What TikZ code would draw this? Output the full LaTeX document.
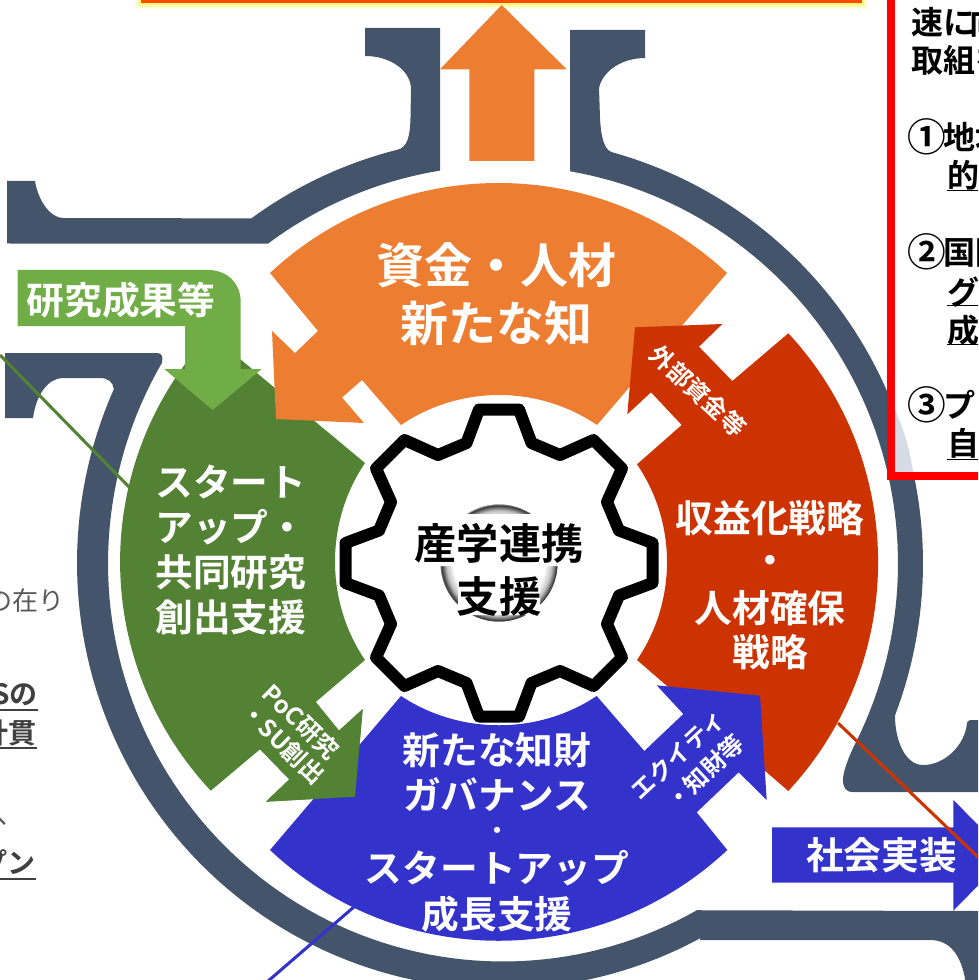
\documentclass[tikz,border=0pt]{standalone}
\usepackage{fontspec}
\setmainfont{Noto Sans CJK JP}[BoldFont={Noto Sans CJK JP Bold}]
\definecolor{ringc}{HTML}{44546A}
\definecolor{orangec}{HTML}{ED7D31}
\definecolor{greenc}{HTML}{548235}
\definecolor{redc}{HTML}{CC3300}
\definecolor{bluec}{HTML}{3333CC}
\definecolor{limec}{HTML}{70AD47}
\definecolor{sliver}{HTML}{D6DCE5}
\definecolor{boxred}{HTML}{FF0000}
\definecolor{bannerc}{HTML}{FF4B00}
\pgfdeclareradialshading{ballshade}{\pgfpoint{0bp}{0bp}}{color(0bp)=(white); color(19.5bp)=(white); color(22.5bp)=(black!25); color(24.9bp)=(black!85); color(25.2bp)=(white); color(100bp)=(white)}
\newcommand{\fsz}[1]{\fontsize{#1}{#1}\selectfont}
\tikzset{
  ringfill/.style={fill=ringc},
  wlabel/.style={text=white,inner sep=0pt,font=\bfseries\fsz{28.3}},
  wbig/.style={text=white,inner sep=0pt,font=\bfseries\fsz{36}},
  wsmall/.style={text=white,inner sep=0pt,font=\bfseries\fsz{18}},
  blabel/.style={text=black,inner sep=0pt,font=\bfseries\fsz{31.7}},
  boxtext/.style={text=black,inner sep=0pt,anchor=west,font=\bfseries\fsz{24}},
  boxnum/.style={text=black,inner sep=0pt,font=\bfseries\fsz{29}},
  sidebold/.style={text=black!75,inner sep=0pt,anchor=east,font=\bfseries\fsz{21}},
  sidereg/.style={text=black!65,inner sep=0pt,anchor=east,font=\fsz{19.5}},
  uline/.style={line width=1.1pt},
}
\begin{document}
\begin{tikzpicture}[x=0.75pt,y=-0.75pt]
\path[use as bounding box] (0,0) rectangle (978,980);
\clip (0,0) rectangle (978,980);
% ---- ring pieces
\fill[ringfill] (440,28) -- (440,170.5)
  -- plot[domain=260.8:233.5,samples=30,variable=\t] ({503+395*cos(\t)},{563.5+398*sin(\t)})
  -- (7,243.5) -- (7,181) -- (35,181) .. controls (38,200) and (50,218) .. (63,218) -- (251.4,218.4)
  -- plot[domain=234:256,samples=30,variable=\t] ({500+423*cos(\t)},{563+426*sin(\t)})
  .. controls (408,147) and (410,135) .. (410.5,118) -- (411,88)
  .. controls (410,70) and (390,56) .. (365,56) -- (365,28) -- cycle;
\fill[ringfill] (570,30) -- (570,171)
  -- plot[domain=-80.2:26.6,samples=70,variable=\t] ({503+395*cos(\t)},{563.5+398*sin(\t)})
  .. controls (848,758) and (843,772) .. (843,780) .. controls (843,788) and (846,792) .. (853,792)
  -- (978,792) -- (978,720) -- (970,720) .. controls (968,721) and (967,722) .. (967,723)
  .. controls (965,745) and (945,765) .. (923,765) .. controls (905,765) and (895,740) .. (895,716)
  -- plot[domain=21:-74.6,samples=70,variable=\t] ({500+423*cos(\t)},{563+426*sin(\t)})
  .. controls (604,150) and (601,137) .. (600,118) -- (599,88)
  .. controls (603,70) and (623,58) .. (645,58) -- (645,30) -- cycle;
\fill[ringfill] (5,353) -- (157,353) .. controls (162,353) and (163,357) .. (162,362)
  -- plot[domain=210.4:60.6,samples=90,variable=\t] ({503+395*cos(\t)},{563.5+398*sin(\t)})
  -- (978,911) -- (978,985) -- (966,985) .. controls (962,955) and (950,940) .. (930,940) -- (700,940)
  -- plot[domain=61.7:204.1,samples=90,variable=\t] ({500+423*cos(\t)},{563+426*sin(\t)})
  .. controls (113,382) and (108,378) .. (100,378) -- (63,378)
  .. controls (48,378) and (36,395) .. (33,418) -- (5,418) -- cycle;
% ---- side lines behind wedges
\coordinate (gl1) at (0,355); \coordinate (gl2) at (131,489);
\draw[greenc,line width=2.3pt] (gl1) -- (gl2);
\coordinate (bl1) at (267,982); \coordinate (bl2) at (355,906);
\draw[bluec,line width=2.3pt] (bl1) -- (bl2);
% ---- top banner
\foreach \g/\o in {6/.12,4/.2,2/.35}{
  \fill[yellow,opacity=\o] ({141-\g},0) rectangle ({862+\g},{3+\g});
}
\fill[bannerc] (141,0) rectangle (862,3);
% ---- red box
\fill[white] (891,-5) rectangle (990,476);
\fill[sliver] (895,410) .. controls (904,430) and (910,450) .. (913,472) -- (895,472) -- cycle;
\draw[boxred,line width=6pt] (891,-10) -- (891,476) -- (990,476);
\node[boxtext] (b1) at (911,22) {速に\kern-4pt 向};
\node[boxtext] (b2) at (911,60) {取組を};
\node[boxnum] (n1c) at (926.5,137) {①};
\node[boxtext] (b3) at (943,137) {地域};
\node[boxtext] (b4) at (947,175) {的};
\node[boxnum] (n2c) at (926.5,252) {②};
\node[boxtext] (b5) at (943,252) {国際};
\node[boxtext] (b6) at (947,292) {グ};
\node[boxtext] (b7) at (947,330) {成};
\node[boxnum] (n3c) at (926.5,405) {③};
\node[boxtext] (b8) at (943,405) {プラ};
\node[boxtext] (b9) at (947,443) {自};
\foreach \y in {190.7,305.7,344.3,459.3}{\draw[black,uline] (947,\y) -- (980,\y);}
% ---- left cut-off text
\node[sidereg] (s1) at (65,601) {の在り};
\node[sidebold] (s2) at (38,695) {Sの};
\draw[black!75,uline] (-2,710) -- (38,710);
\node[sidebold] (s3) at (37,733) {計貫};
\draw[black!75,uline] (-2,748) -- (37,748);
\node[sidereg] (s4) at (8,818) {へ};
\node[sidebold] (s5) at (36,862) {プン};
\draw[black!75,uline] (-2,879) -- (36,879);
% ---- wedges
\fill[greenc] (210.7,790.7) .. controls (90,661) and (90,463) .. (210,334) -- (365,463)
  .. controls (325,522) and (325,601) .. (365,660) -- (315.7,702) -- (339,730.7) -- (362.7,709)
  -- (355,796.7) -- (266,801.7) -- (289.3,779.3) -- (260,749.3) -- cycle;
\fill[orangec] (270,273) .. controls (398.7,153) and (598.3,153) .. (727,273) -- (597,425)
  .. controls (538,385) and (460,385) .. (401,425) -- (362,380) -- (342,397.5) -- (364,423)
  -- (276,419) -- (272,331) -- (295,353) -- (318,331) -- cycle;
\fill[redc] (788.3,333.3) .. controls (908,462) and (908,662) .. (788.3,791) -- (637,660)
  .. controls (677,601) and (677,523) .. (637,464.3) -- (681.7,425) -- (651,392.3) -- (627.3,414.3)
  -- (635,327.3) -- (722.3,324) -- (699,346.7) -- (732.3,381) -- cycle;
\fill[bluec] (727.3,850) .. controls (598.3,971) and (398.7,971) .. (270,850) -- (401,696)
  .. controls (460,735) and (538,735) .. (596.7,696) -- (644.3,751) -- (683.3,714) -- (656.7,685.3)
  -- (760,695.7) -- (766.7,800) -- (738.7,772.3) -- (696.7,812.3) -- cycle;
% green arrow back on top of blue
\fill[greenc] (315.7,702) -- (339,730.7) -- (362.7,709) -- (355,796.7) -- (266,801.7) -- (289.3,779.3) -- (260,749.3) -- cycle;
% ---- up arrow
\fill[orangec] (501.7,5) -- (566.7,69.3) -- (534.3,69.3) -- (534.3,161) -- (469.3,161) -- (469.3,69.3) -- (440,69.3) -- cycle;
% ---- lime arrow
\fill[limec] (17.7,270) -- (208,270) .. controls (228,270) and (240.7,284) .. (240.7,302)
  -- (240.7,369) -- (261.7,369) -- (212.7,410) -- (164.3,369) -- (185,369) -- (185,326) -- (17.7,326) -- cycle;
\node[wlabel] (t1) at (121,300) {研究成果等};
% ---- blue right arrow
\fill[bluec] (772,827.3) -- (953.3,827.3) -- (953.3,800) -- (1008,855) -- (953.3,910.7) -- (953.3,882.7) -- (772,882.7) -- cycle;
\node[wlabel] (t2) at (881.5,855) {社会実装};
% ---- red line over
\coordinate (rl1) at (838,723); \coordinate (rl2) at (980,859);
\draw[redc,line width=2.3pt] (rl1) -- (rl2);
% ---- gear
\fill[shading=ballshade] (499,563) circle (58.5);
\foreach \o in {.5,.7,1}{
  \pgfmathsetmacro{\dd}{(1-\o)*18}
  \fill[white,opacity=\o,rounded corners=6] ({397+\dd},{514+\dd}) rectangle ({601-\dd},{566-\dd});
  \fill[white,opacity=\o,rounded corners=6] ({458+\dd},{560+\dd}) rectangle ({540-\dd},{615-\dd});
}
\draw[black,line width=9pt,line join=round,shift={(499,563)}]
  (-20,-153.5) -- (20,-153.5) -- (32.5,-120) -- (61,-108) -- (94.5,-123) -- (123,-94.5) -- (108,-61) -- (120,-32.5)
  -- (153.5,-20) -- (153.5,20) -- (120,32.5) -- (108,61) -- (123,94.5) -- (94.5,123) -- (61,108) -- (32.5,120)
  -- (20,153.5) -- (-20,153.5) -- (-32.5,120) -- (-61,108) -- (-94.5,123) -- (-123,94.5) -- (-108,61) -- (-120,32.5)
  -- (-153.5,20) -- (-153.5,-20) -- (-120,-32.5) -- (-108,-61) -- (-123,-94.5) -- (-94.5,-123) -- (-61,-108) -- (-32.5,-120) -- cycle;
\node[blabel] (g1) at (499,543) {産学連携};
\node[blabel] (g2) at (499,596) {支援};
% ---- wedge labels
\node[wbig] (o1) at (496,265) {資金・人材};
\node[wbig] (o2) at (496,323) {新たな知};
\node[wlabel,anchor=west] (v1) at (155,482) {スタート};
\node[wlabel,anchor=west] (v2) at (155,527) {アップ・};
\node[wlabel,anchor=west] (v3) at (155,572) {共同研究};
\node[wlabel,anchor=west] (v4) at (155,617) {創出支援};
\node[wlabel] (r1) at (770,518) {収益化戦略};
\node[wlabel] (r2) at (770,565) {・};
\node[wlabel] (r3) at (770,608) {人材確保};
\node[wlabel] (r4) at (770,652) {戦略};
\node[wlabel] (n1) at (497,750) {新たな知財};
\node[wlabel] (n2) at (497,795) {ガバナンス};
\node[wsmall] (n3) at (497,833) {・};
\node[wlabel] (n4) at (497,868) {スタートアップ};
\node[wlabel] (n5) at (497,914) {成長支援};
% ---- arrow labels
\node[wsmall,rotate=-43] (a1) at (698,391) {外部資金等};
\node[wsmall,rotate=-44] (a2) at (301,722) {PoC研究};
\node[wsmall,rotate=-44] (a3) at (283,743) {・SU創出};
\node[wsmall,rotate=43] (a4) at (678,755) {エクイティ};
\node[wsmall,rotate=43] (a5) at (705,772) {・知財等};
\end{tikzpicture}
\end{document}
